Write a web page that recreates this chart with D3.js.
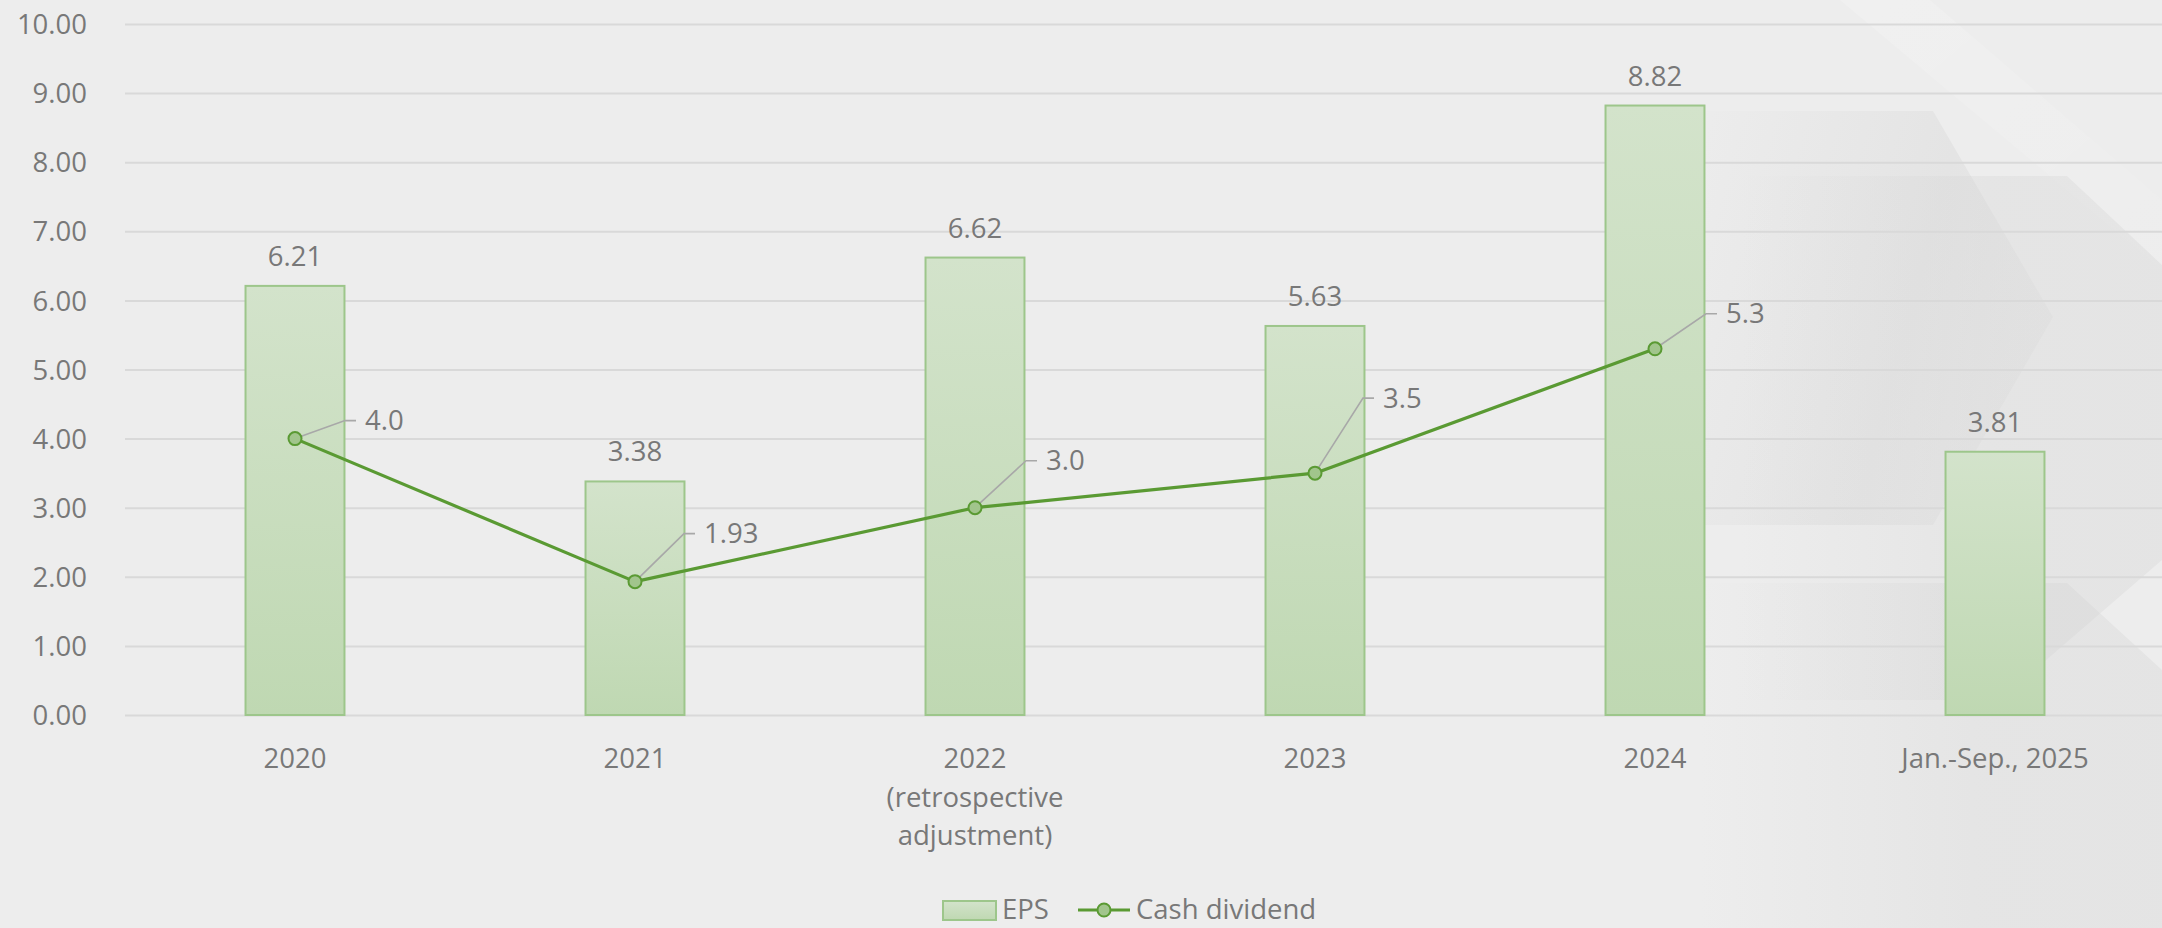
<!DOCTYPE html>
<html>
<head>
<meta charset="utf-8">
<script src="https://cdn.jsdelivr.net/npm/d3@7"></script>
<style>
  html, body { margin: 0; padding: 0; background: #ededed; overflow: hidden; }
  svg { display: block; }
  text { font-family: "Open Sans", "Liberation Sans", sans-serif; fill: #787878; }
</style>
</head>
<body>
<svg id="chart" width="2162" height="928"></svg>
<script>
// ---- data ----
const categories = ["2020", "2021", "2022\n(retrospective\nadjustment)", "2023", "2024", "Jan.-Sep., 2025"];
const epsValues = [6.21, 3.38, 6.62, 5.63, 8.82, 3.81];
const epsLabels = ["6.21", "3.38", "6.62", "5.63", "8.82", "3.81"];
const dividendValues = [4.0, 1.93, 3.0, 3.5, 5.3, null];
const dividendLabels = ["4.0", "1.93", "3.0", "3.5", "5.3", null];
const yTicks = [0, 1, 2, 3, 4, 5, 6, 7, 8, 9, 10];
const seriesNames = ["EPS", "Cash dividend"];

// ---- layout (kept separate from data) ----
const W = 2162, H = 928;
const plot = { left: 125, right: 2165, top: 24, bottom: 715 };
const labelOffsets = [[50, -18], [49, -48], [51, -47], [48, -75], [51, -35], null];
const fontSize = 27.5;
const colors = {
  grid: "#d9d9d9", text: "#787878",
  barTop: "#d3e3cb", barBottom: "#bfd8b2", barStroke: "#9dc68b",
  line: "#5a9a33", marker: "#a1c58c", leader: "#a8a8a8"
};

const svg = d3.select("#chart");
const defs = svg.append("defs");

// background decoration
const bgGrad = defs.append("linearGradient").attr("id", "hexFade").attr("x1", 0).attr("x2", 1).attr("y1", 0).attr("y2", 0.3);
bgGrad.append("stop").attr("offset", "0%").attr("stop-color", "#cfcfcf").attr("stop-opacity", 0);
bgGrad.append("stop").attr("offset", "70%").attr("stop-color", "#cfcfcf").attr("stop-opacity", 0.3);
bgGrad.append("stop").attr("offset", "100%").attr("stop-color", "#cfcfcf").attr("stop-opacity", 0.18);
const bgGrad2 = defs.append("linearGradient").attr("id", "hexFade2").attr("x1", 0).attr("x2", 1).attr("y1", 0).attr("y2", 0);
bgGrad2.append("stop").attr("offset", "0%").attr("stop-color", "#d0d0d0").attr("stop-opacity", 0);
bgGrad2.append("stop").attr("offset", "60%").attr("stop-color", "#d0d0d0").attr("stop-opacity", 0.28);
bgGrad2.append("stop").attr("offset", "100%").attr("stop-color", "#d0d0d0").attr("stop-opacity", 0.3);
const bgGrad3 = defs.append("linearGradient").attr("id", "stripe").attr("x1", 0).attr("x2", 1).attr("y1", 0).attr("y2", 1);
bgGrad3.append("stop").attr("offset", "0%").attr("stop-color", "#ffffff").attr("stop-opacity", 0.18);
bgGrad3.append("stop").attr("offset", "100%").attr("stop-color", "#ffffff").attr("stop-opacity", 0.03);

const deco = svg.append("g").attr("class", "decoration");
const line2 = d3.line();
deco.append("path").attr("d", line2([[1840,0],[1930,0],[2162,200],[2162,270]]) + "Z").attr("fill", "url(#stripe)");
deco.append("path").attr("d", line2([[1680,111],[1933,111],[2053,317],[1933,525],[1680,525]]) + "Z").attr("fill", "url(#hexFade)");
deco.append("path").attr("d", line2([[1740,176],[2067,176],[2162,265],[2162,560],[2000,700],[1740,700]]) + "Z").attr("fill", "url(#hexFade2)");
deco.append("path").attr("d", line2([[1700,583],[2067,583],[2162,670],[2162,928],[1700,928]]) + "Z").attr("fill", "url(#hexFade2)");

// scales
const x = d3.scaleBand().domain(categories).range([plot.left, plot.right]).paddingInner(0.709).paddingOuter(0.3545);
const xc = c => x(c) + x.bandwidth() / 2;
const y = d3.scaleLinear().domain([0, 10]).range([plot.bottom, plot.top]);

// gridlines via axis
const gridAxis = d3.axisLeft(y).tickValues(yTicks).tickSize(-(W - plot.left)).tickFormat("");
const grid = svg.append("g").attr("transform", `translate(${plot.left},0)`).call(gridAxis);
grid.select(".domain").remove();
grid.selectAll("line").attr("stroke", colors.grid).attr("stroke-width", 2);

// y tick labels via axis
const yAxis = d3.axisLeft(y).tickValues(yTicks).tickFormat(d3.format(".2f")).tickSize(0).tickPadding(0);
const yg = svg.append("g").attr("transform", `translate(87,0)`).call(yAxis);
yg.select(".domain").remove();
yg.selectAll("text").attr("font-size", fontSize).attr("fill", colors.text)
  .attr("font-family", '"Open Sans", sans-serif').attr("dy", "0.35em");

// bar gradient
const bg = defs.append("linearGradient").attr("id", "barGrad").attr("x1", 0).attr("x2", 0).attr("y1", 0).attr("y2", 1);
bg.append("stop").attr("offset", "0%").attr("stop-color", colors.barTop);
bg.append("stop").attr("offset", "100%").attr("stop-color", colors.barBottom);

// bars
svg.append("g").selectAll("rect").data(categories).join("rect")
  .attr("x", c => x(c))
  .attr("y", (c, i) => y(epsValues[i]))
  .attr("width", x.bandwidth())
  .attr("height", (c, i) => y(0) - y(epsValues[i]))
  .attr("fill", "url(#barGrad)")
  .attr("stroke", colors.barStroke).attr("stroke-width", 2);

// bar labels
svg.append("g").selectAll("text").data(categories).join("text")
  .attr("x", c => xc(c))
  .attr("y", (c, i) => y(epsValues[i]) - 20)
  .attr("text-anchor", "middle").attr("font-size", fontSize)
  .text((c, i) => epsLabels[i]);

// x axis labels
const xAxis = d3.axisBottom(x).tickSize(0).tickPadding(0);
const xg = svg.append("g").attr("transform", `translate(0,${plot.bottom})`).call(xAxis);
xg.select(".domain").remove();
xg.selectAll("text").each(function(c) {
  const t = d3.select(this);
  t.text(null).attr("font-size", fontSize).attr("fill", colors.text).attr("font-family", '"Open Sans", sans-serif')
    .attr("y", 0).attr("dy", null);
  c.split("\n").forEach((ln, k) => {
    t.append("tspan").attr("x", 0).attr("y", 53 + k * 38.5).text(ln);
  });
});

// dividend line
const pts = categories.map((c, i) => ({ c, v: dividendValues[i], i })).filter(d => d.v != null);
const lineGen = d3.line().x(d => xc(d.c)).y(d => y(d.v));
svg.append("path").datum(pts).attr("d", lineGen)
  .attr("fill", "none").attr("stroke", colors.line).attr("stroke-width", 3.2).attr("stroke-linejoin", "round");

// leader lines & labels
const lab = svg.append("g");
pts.forEach(d => {
  const px = xc(d.c), py = y(d.v);
  const [dx, dy] = labelOffsets[d.i];
  lab.append("path").attr("d", d3.line()([[px, py], [px + dx, py + dy], [px + dx + 11, py + dy]]))
    .attr("fill", "none").attr("stroke", colors.leader).attr("stroke-width", 1.6);
  lab.append("text").attr("x", px + dx + 20).attr("y", py + dy).attr("dy", "0.35em")
    .attr("font-size", fontSize).text(dividendLabels[d.i]);
});

// markers
svg.append("g").selectAll("circle").data(pts).join("circle")
  .attr("cx", d => xc(d.c)).attr("cy", d => y(d.v)).attr("r", 6.5)
  .attr("fill", colors.marker).attr("stroke", colors.line).attr("stroke-width", 2);

// legend
const lg = svg.append("g");
lg.append("rect").attr("x", 943).attr("y", 901).attr("width", 53).attr("height", 19)
  .attr("fill", "url(#barGrad)").attr("stroke", colors.barStroke).attr("stroke-width", 2);
lg.append("text").attr("x", 1002).attr("y", 919).attr("font-size", fontSize).text(seriesNames[0]);
lg.append("line").attr("x1", 1078).attr("x2", 1130).attr("y1", 910).attr("y2", 910)
  .attr("stroke", colors.line).attr("stroke-width", 3);
lg.append("circle").attr("cx", 1104).attr("cy", 910).attr("r", 6.5)
  .attr("fill", colors.marker).attr("stroke", colors.line).attr("stroke-width", 2);
lg.append("text").attr("x", 1136).attr("y", 919).attr("font-size", fontSize).text(seriesNames[1]);
</script>
</body>
</html>
